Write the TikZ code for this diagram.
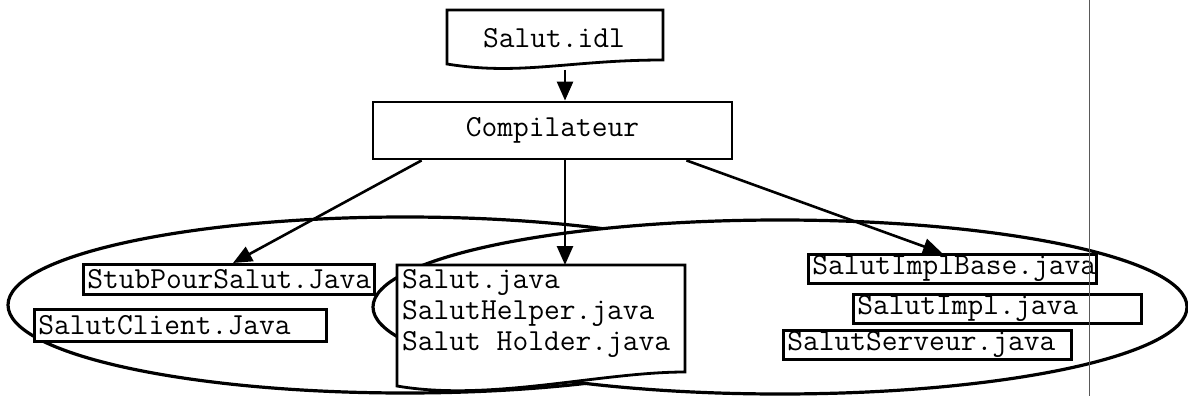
\documentclass[tikz,border=0pt]{standalone}
\usepackage{fontspec}
\usetikzlibrary{arrows.meta,calc}
\begin{document}
\begin{tikzpicture}[x=1pt,y=-1pt,
  every node/.style={font=\ttfamily\fontsize{30.6}{31}\selectfont},
  filebox/.style={draw, fill=white, line width=2.8pt, inner xsep=4pt, inner ysep=0pt,
                  align=left, anchor=north west},
  docshape/.style={draw, fill=white, line width=2.8pt},
  link/.style={line width=2.6pt, -{Triangle[length=19pt,width=16pt]}},
  group/.style={draw, fill=white, line width=3.2pt}]
\useasboundingbox (0,0) rectangle (1188,396);

% client side and server side groups
\draw[group] (405,305) ellipse [x radius=397, y radius=88];
\draw[group] (780,307) ellipse [x radius=407, y radius=87];

% source interface file
\path[docshape] (447,10) -- (663,10) -- (663,60)
  .. controls (570,60) and (520,76) .. (447,64) -- cycle;
\node (idl) at (554,38) {Salut.idl};
\coordinate (idlbot) at (565,70);

% compiler
\node[draw, line width=2.8pt, minimum width=359pt, minimum height=57pt] (comp)
  at (552.5,130.5) {Compilateur};

% client files
\node[filebox, text width=283pt, minimum height=30pt] (stub) at (82,263) {StubPourSalut.Java};
\node[filebox, text width=284pt, minimum height=32pt] (client) at (33,308) {SalutClient.Java};

% shared files
\path[docshape] (397,265) -- (685,265) -- (685,372)
  .. controls (600,372) and (490,402) .. (397,386) -- cycle;
\node[anchor=north west, align=left, inner sep=0pt] (shared) at (402,269)
  {Salut.java\\SalutHelper.java\\Salut Holder.java};
\coordinate (sharedtop) at (565,265);

% server files
\node[filebox, text width=280pt, minimum height=29pt] (implbase) at (807,253) {SalutImplBase.java};
\node[filebox, text width=280pt, minimum height=29pt] (impl) at (852,293) {SalutImpl.java};
\node[filebox, text width=280pt, minimum height=29pt] (serveur) at (782,329) {SalutServeur.java};

% generation flow
\draw[link] (idlbot) -- (idlbot |- comp.north);
\draw[link] ($(comp.south west)+(50,0)$) -- ($(stub.north west)+(151,0)$);
\draw[link] (comp.south -| sharedtop) -- (sharedtop);
\draw[link] ($(comp.south east)+(-47,0)$) -- ($(implbase.north west)+(135,0)$);

% margin rule
\draw[gray!70!black, line width=1pt] (1089,0) -- (1089,396);
\end{tikzpicture}
\end{document}
